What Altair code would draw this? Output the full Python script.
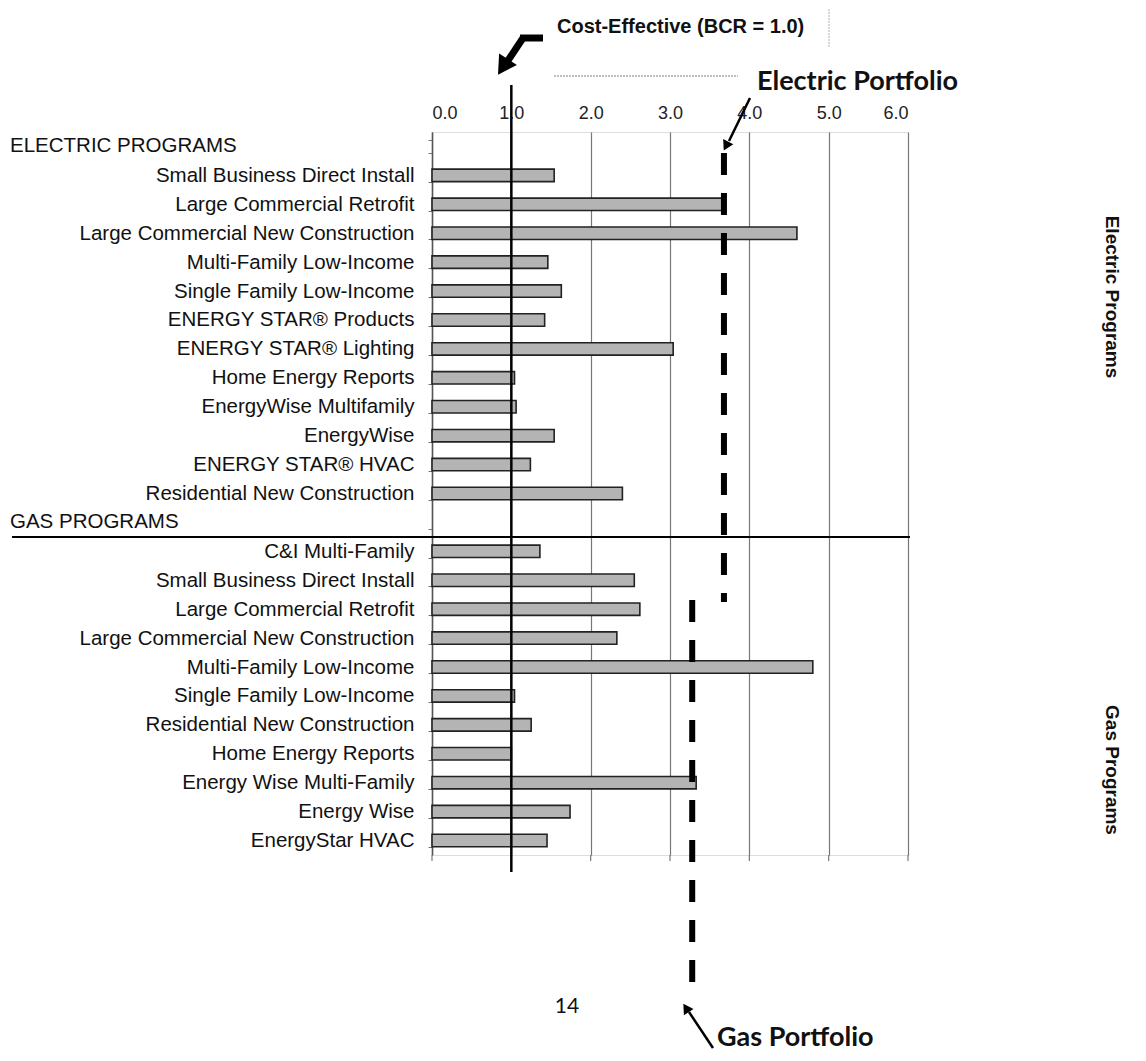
import json
import altair as alt
import pandas as pd

# ---------------- data ----------------
electric_programs = [
    "Small Business Direct Install",
    "Large Commercial Retrofit",
    "Large Commercial New Construction",
    "Multi-Family Low-Income",
    "Single Family Low-Income",
    "ENERGY STAR® Products",
    "ENERGY STAR® Lighting",
    "Home Energy Reports",
    "EnergyWise Multifamily",
    "EnergyWise",
    "ENERGY STAR® HVAC",
    "Residential New Construction",
]
electric_bcr = [1.54, 3.67, 4.60, 1.46, 1.63, 1.42, 3.04, 1.04, 1.06, 1.54, 1.24, 2.40]

gas_programs = [
    "C&I Multi-Family",
    "Small Business Direct Install",
    "Large Commercial Retrofit",
    "Large Commercial New Construction",
    "Multi-Family Low-Income",
    "Single Family Low-Income",
    "Residential New Construction",
    "Home Energy Reports",
    "Energy Wise Multi-Family",
    "Energy Wise",
    "EnergyStar HVAC",
]
gas_bcr = [1.36, 2.55, 2.62, 2.33, 4.80, 1.04, 1.25, 1.00, 3.33, 1.74, 1.45]

group_headers = ["ELECTRIC PROGRAMS", "GAS PROGRAMS"]
x_ticks = [0, 1, 2, 3, 4, 5, 6]
bcr_threshold = 1.0
electric_portfolio = 3.68
gas_portfolio = 3.28

# ---------------- tables ----------------
row_labels = [""] + electric_programs + [""] + gas_programs
n_rows = len(row_labels)
bars = pd.DataFrame({
    "row": list(range(1, 1 + len(electric_programs)))
    + list(range(2 + len(electric_programs), n_rows)),
    "value": electric_bcr + gas_bcr,
})
headers = pd.DataFrame({"row": [0, 1 + len(electric_programs)], "text": group_headers})
tick_df = pd.DataFrame({"value": x_ticks})
one = pd.DataFrame({"a": [0]})

FONT = "Liberation Sans"
W, H = 476, 723
LBL = 20.5

label_expr = json.dumps(row_labels, ensure_ascii=False) + "[datum.value]"

y_enc = alt.Y(
    "row:O",
    scale=alt.Scale(domain=list(range(n_rows)), paddingInner=0.57, paddingOuter=0.285),
    axis=alt.Axis(
        labelExpr=label_expr, title=None, labelFont=FONT, labelFontSize=LBL,
        labelColor="#111", labelPadding=14, tickSize=4, tickColor="#777",
        tickBand="extent", domainColor="#555", domainWidth=1.5, labelLimit=0, grid=False,
    ),
)
x_scale = alt.Scale(domain=[0, 6], nice=False, zero=True)
x_axis = alt.Axis(
    orient="top", values=x_ticks, format=".1f", grid=True, gridColor="#777",
    gridWidth=1.2, ticks=False, domain=False, labelFont=FONT, labelFontSize=18,
    labelPadding=10, labelColor="#222", title=None)

bar_layer = alt.Chart(bars).mark_bar(
    fill="#b4b4b4", stroke="#222", strokeWidth=1.6
).encode(
    x=alt.X("value:Q", scale=x_scale, axis=x_axis),
    y=y_enc,
)

# small ticks under the bottom edge, one per gridline
bottom_ticks = alt.Chart(tick_df).mark_rule(color="#777", strokeWidth=1.2).encode(
    x=alt.X("value:Q", scale=x_scale, axis=x_axis), y=alt.value(H), y2=alt.value(H + 6))

header_layer = alt.Chart(headers).mark_text(
    align="left", baseline="middle", font=FONT, fontSize=LBL, color="#111"
).encode(x=alt.value(-422), y=alt.Y("row:O"), text="text:N")

# BCR = 1.0 line
bcr_line = alt.Chart(one).mark_rule(color="black", strokeWidth=2.5).encode(
    x=alt.datum(bcr_threshold), y=alt.value(-47), y2=alt.value(740))

# Portfolio dashed lines
elec_dash = alt.Chart(one).mark_rule(color="black", strokeWidth=6, strokeDash=[22, 18]).encode(
    x=alt.datum(electric_portfolio), y=alt.value(21), y2=alt.value(470))
gas_dash = alt.Chart(one).mark_rule(color="black", strokeWidth=6, strokeDash=[22, 18]).encode(
    x=alt.datum(gas_portfolio), y=alt.value(468), y2=alt.value(853))

# separator between electric and gas
separator = alt.Chart(one).mark_rule(color="black", strokeWidth=2).encode(
    x=alt.value(-420), x2=alt.value(478), y=alt.value(405))

def txt(s, x, y, size, weight="normal", font=FONT, align="left", angle=0,
        color="#111", baseline="middle"):
    kw = dict(align=align, baseline=baseline, font=font, fontSize=size, fontWeight=weight,
              color=color, text=s)
    if angle:
        kw["angle"] = angle
    return alt.Chart(one).mark_text(**kw).encode(x=alt.value(x), y=alt.value(y))

def seg(x1, y1, x2, y2, width, color="black", dash=None):
    kw = dict(color=color, strokeWidth=width, strokeCap="butt")
    if dash:
        kw["strokeDash"] = dash
    return alt.Chart(one).mark_rule(**kw).encode(
        x=alt.value(x1), y=alt.value(y1), x2=alt.value(x2), y2=alt.value(y2))

def head(x, y, angle, size):
    return alt.Chart(one).mark_point(
        shape="triangle-up", filled=True, color="black", opacity=1, size=size, angle=angle
    ).encode(x=alt.value(x), y=alt.value(y))

annotations = [
    txt("Cost-Effective (BCR = 1.0)", 125, -105, 20, "bold"),
    seg(122, -56, 306, -56, 1.5, "#aaa", [2, 1]),
    seg(397, -126, 397, -84, 1.2, "#bbb", [2, 1]),
    seg(120, -127, 397, -127, 1, "#ccc", [3, 5]),
    seg(111, -94, 88, -94, 7),
    seg(91, -94, 75, -70, 7),
    head(71, -65, 213, 450),
    txt("Electric Portfolio", 325, -50, 27, "bold", "Lato"),
    seg(318, -34, 297, 9, 2.5),
    head(294, 14, 207, 130),
    txt("Gas Portfolio", 285, 914, 27, "bold", "Lato", baseline="alphabetic"),
    seg(281, 916, 257, 880, 2.5),
    head(254, 876, 327, 130),
    txt("14", 135, 875, 21, "normal", "Lato", align="center"),
    txt("Electric Programs", 680, 165, 19, "bold", align="center", angle=90),
    txt("Gas Programs", 680, 638, 19, "bold", align="center", angle=90),
]

chart = alt.layer(
    bar_layer, bottom_ticks, header_layer, bcr_line, elec_dash, gas_dash, separator,
    *annotations,
).properties(
    width=W, height=H,
    autosize=alt.AutoSizeParams(type="none"),
    padding={"left": 424, "top": 124, "right": 230, "bottom": 198},
).configure_view(stroke="#777", strokeWidth=1.5).configure(background="white")

chart.save("out.html", embed_options={"renderer": "svg", "actions": False})
